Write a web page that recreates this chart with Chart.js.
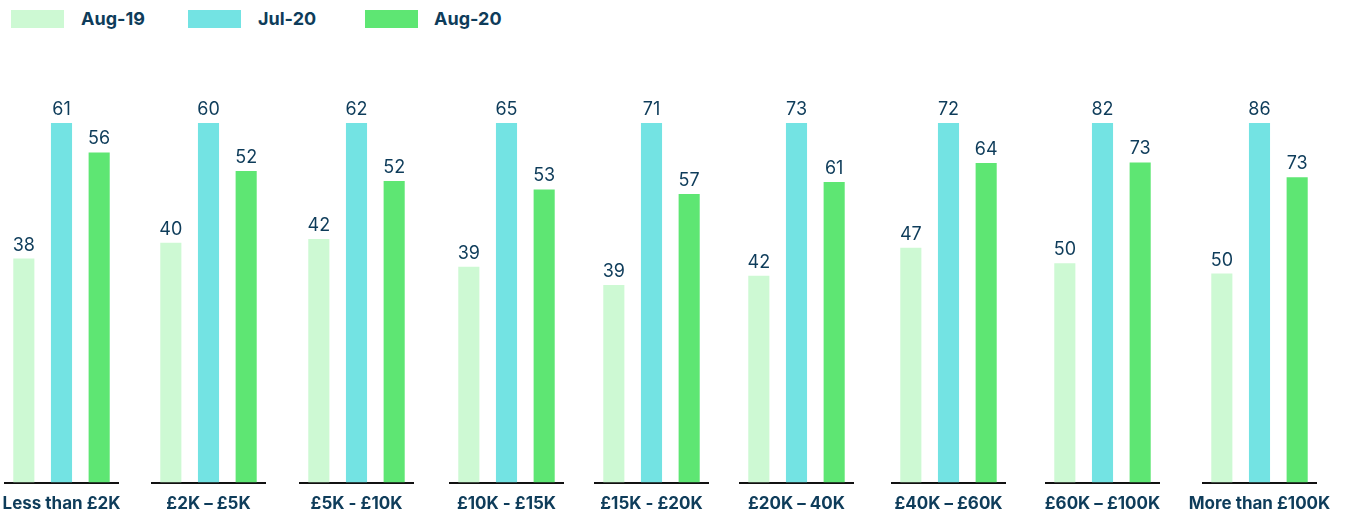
<!DOCTYPE html>
<html>
<head>
<meta charset="utf-8">
<script src="https://cdn.jsdelivr.net/npm/chart.js@4.4.0/dist/chart.umd.min.js"></script>
<style>
  body { margin: 0; background: #fff; width: 1346px; height: 513px; overflow: hidden; position: relative; font-family: Inter, sans-serif; }
  .legend { position: absolute; top: 10px; left: 0; height: 18px; }
  .legend span.box { position: absolute; top: 0; width: 53px; height: 18px; }
  .legend span.txt { position: absolute; top: -2px; font-weight: 700; font-size: 18px; color: #0e3c5a; line-height: 22px; white-space: nowrap; }
  .grp { position: absolute; top: 90px; width: 233px; height: 435px; }
</style>
</head>
<body>
<div class="legend" id="legend"></div>

<script>
// Valores por faixa de renda
const categorias = ['Less than £2K', '£2K – £5K', '£5K - £10K', '£10K - £15K', '£15K - £20K', '£20K – 40K', '£40K – £60K', '£60K – £100K', 'More than £100K'];
const aug19 = [38, 40, 42, 39, 39, 42, 47, 50, 50];
const jul20 = [61, 60, 62, 65, 71, 73, 72, 82, 86];
const aug20 = [56, 52, 52, 53, 57, 61, 64, 73, 73];

const series = ['Aug-19', 'Jul-20', 'Aug-20'];
const cores = ['#cdf9d3', '#73e3e3', '#5ee673'];

// posição horizontal de cada grupo (cada grupo tem sua própria escala)
const posGrupos = [5, 152, 300, 450, 595, 740, 892, 1046, 1203];
const margem = 60; // espaço lateral para o rótulo do eixo não encolher a área
const corTexto = '#0e3c5a';

// Legenda
const legendaPos = [[11, 81], [188, 258], [365, 434]];
const legend = document.getElementById('legend');
series.forEach((s, i) => {
    const b = document.createElement('span');
    b.className = 'box';
    b.style.left = legendaPos[i][0] + 'px';
    b.style.background = cores[i];
    legend.appendChild(b);
    const t = document.createElement('span');
    t.className = 'txt';
    t.style.left = legendaPos[i][1] + 'px';
    t.textContent = s;
    legend.appendChild(t);
});

// rótulos de valor acima das barras
const rotulos = {
    id: 'rotulos',
    afterDatasetsDraw(chart) {
        const c = chart.ctx;
        c.save();
        c.font = '400 18px Inter';
        c.fillStyle = corTexto;
        c.textAlign = 'center';
        c.textBaseline = 'alphabetic';
        chart.data.datasets.forEach((ds, i) => {
            chart.getDatasetMeta(i).data.forEach((bar, j) => {
                c.fillText(ds.data[j], bar.x, bar.y - 8);
            });
        });
        c.restore();
    }
};

categorias.forEach((cat, i) => {
    const div = document.createElement('div');
    div.className = 'grp';
    div.style.left = (posGrupos[i] - margem) + 'px';
    const canvas = document.createElement('canvas');
    div.appendChild(canvas);
    document.body.appendChild(div);

    const valores = [aug19[i], jul20[i], aug20[i]];

    new Chart(canvas, {
        type: 'bar',
        data: {
            labels: [cat],
            datasets: series.map((s, k) => ({
                label: s,
                data: [valores[k]],
                backgroundColor: cores[k],
                borderWidth: 0,
                categoryPercentage: 1,
                barPercentage: 0.56
            }))
        },
        options: {
            responsive: true,
            maintainAspectRatio: false,
            animation: false,
            layout: { padding: { top: 33, left: margem, right: margem, bottom: 0 } },
            scales: {
                x: {
                    grid: { display: false, drawTicks: false },
                    border: { display: true, color: '#111', width: 2 },
                    ticks: {
                        color: corTexto,
                        padding: 11,
                        maxRotation: 0,
                        autoSkip: false,
                        font: { family: 'Inter', size: 17, weight: 'bold' }
                    }
                },
                y: {
                    display: false,
                    min: 0,
                    max: Math.max(...valores)
                }
            },
            plugins: {
                legend: { display: false },
                tooltip: { enabled: false }
            }
        },
        plugins: [rotulos]
    });
});
</script>
</body>
</html>
